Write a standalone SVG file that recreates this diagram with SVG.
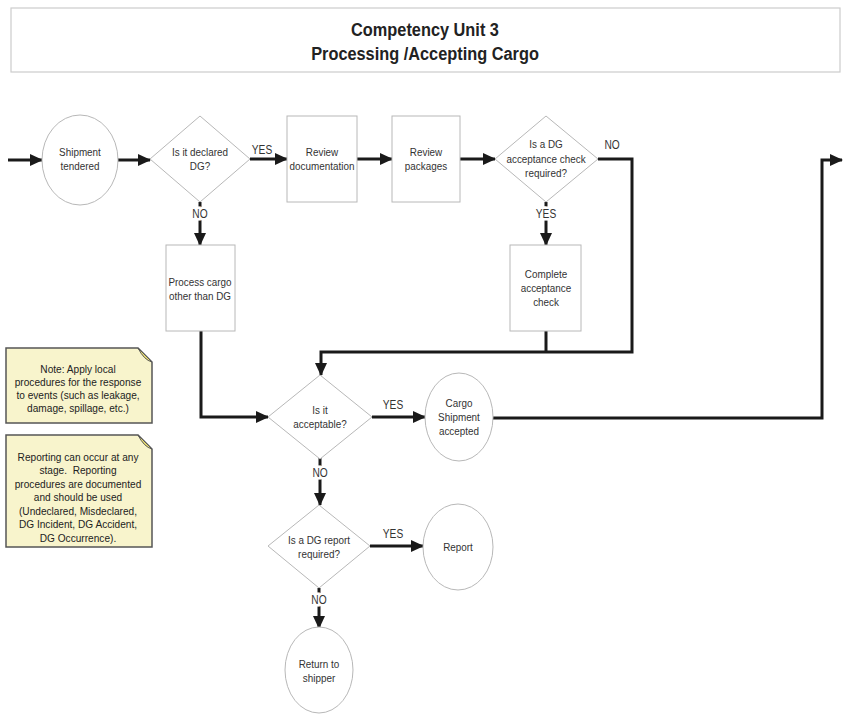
<svg xmlns="http://www.w3.org/2000/svg" width="846" height="719" viewBox="0 0 846 719">
<defs>
<marker id="ah" markerUnits="userSpaceOnUse" markerWidth="13" markerHeight="12" refX="12" refY="6" orient="auto">
<path d="M0,0 L13,6 L0,12 z" fill="#1a1a1a"/>
</marker>
<style>
text{font-family:"Liberation Sans",Arial,sans-serif;text-anchor:middle;fill:#333;transform-box:fill-box;transform-origin:center}
.t{font-size:19px;font-weight:bold;fill:#222;transform:scaleX(0.86)}
.n{font-size:11.5px;transform:scaleX(0.86)}
.lb{font-size:12px;paint-order:stroke;stroke:#fff;stroke-width:5px;transform:scaleX(0.85)}
.sh{fill:#fff;stroke:#b8b8b8;stroke-width:1}
.c{fill:none;stroke:#1a1a1a;stroke-width:3}
.a{marker-end:url(#ah)}
.note{fill:#f8f4cc;stroke:#555;stroke-width:1.5}
.fold{fill:#ece070;stroke:#555;stroke-width:1}
.nt{font-size:11.5px;fill:#222;transform:scaleX(0.88)}
</style>
</defs>
<rect width="846" height="719" fill="#fff"/>
<g id="title">
<rect x="11" y="8" width="829" height="64" fill="#fff" stroke="#ccc" stroke-width="1.2"/>
<text class="t" x="425" y="36">Competency Unit 3</text>
<text class="t" x="425" y="60">Processing /Accepting Cargo</text>
</g>
<g id="connectors">
<path class="c a" d="M8,160 H42"/>
<path class="c a" d="M118,160 H150"/>
<path class="c a" d="M250,159 H287"/>
<path class="c a" d="M357,159 H392"/>
<path class="c a" d="M460,159 H495"/>
<path class="c a" d="M200,202 V245"/>
<path class="c a" d="M546,202 V245"/>
<path class="c a" d="M598,159 H632 V352 H321 V375"/>
<path class="c" d="M546,331 V352"/>
<path class="c a" d="M201,331 V417 H268"/>
<path class="c a" d="M372,417 H425"/>
<path class="c a" d="M320,458 V505"/>
<path class="c a" d="M370,546 H423"/>
<path class="c a" d="M319,588 V628"/>
<path class="c a" d="M493,418 H822 V160 H842"/>
<text class="lb" x="262" y="154">YES</text>
<text class="lb" x="612" y="149">NO</text>
<text class="lb" x="200" y="218">NO</text>
<text class="lb" x="546" y="218">YES</text>
<text class="lb" x="393" y="409">YES</text>
<text class="lb" x="320" y="477">NO</text>
<text class="lb" x="393" y="538">YES</text>
<text class="lb" x="319" y="604">NO</text>
</g>
<g id="shipment-tendered">
<ellipse class="sh" cx="80" cy="160" rx="38" ry="45"/>
<text class="n" x="80" y="156">Shipment</text>
<text class="n" x="80" y="170">tendered</text>
</g>
<g id="declared-dg">
<path class="sh" d="M200,116 L250,159 L200,202 L150,159 z"/>
<text class="n" x="200" y="156">Is it declared</text>
<text class="n" x="200" y="170">DG?</text>
</g>
<g id="review-documentation">
<rect class="sh" x="287" y="116" width="70" height="86"/>
<text class="n" x="322" y="156">Review</text>
<text class="n" x="322" y="170">documentation</text>
</g>
<g id="review-packages">
<rect class="sh" x="392" y="116" width="68" height="86"/>
<text class="n" x="426" y="156">Review</text>
<text class="n" x="426" y="170">packages</text>
</g>
<g id="acceptance-check-required">
<path class="sh" d="M546,116 L598,159 L546,202 L495,159 z"/>
<text class="n" x="546" y="148">Is a DG</text>
<text class="n" x="546" y="163">acceptance check</text>
<text class="n" x="546" y="177">required?</text>
</g>
<g id="complete-acceptance-check">
<rect class="sh" x="510" y="245" width="71" height="86"/>
<text class="n" x="546" y="278">Complete</text>
<text class="n" x="546" y="292">acceptance</text>
<text class="n" x="546" y="306">check</text>
</g>
<g id="process-cargo">
<rect class="sh" x="166" y="245" width="69" height="86"/>
<text class="n" x="200" y="286">Process cargo</text>
<text class="n" x="200" y="300">other than DG</text>
</g>
<g id="is-acceptable">
<path class="sh" d="M320,375 L372,417 L320,459 L268,417 z"/>
<text class="n" x="320" y="414">Is it</text>
<text class="n" x="320" y="428">acceptable?</text>
</g>
<g id="cargo-accepted">
<ellipse class="sh" cx="459" cy="417" rx="34" ry="44"/>
<text class="n" x="459" y="407">Cargo</text>
<text class="n" x="459" y="421">Shipment</text>
<text class="n" x="459" y="435">accepted</text>
</g>
<g id="dg-report-required">
<path class="sh" d="M319,505 L370,546 L319,588 L268,546 z"/>
<text class="n" x="319" y="544">Is a DG report</text>
<text class="n" x="319" y="558">required?</text>
</g>
<g id="report">
<ellipse class="sh" cx="458" cy="547" rx="35" ry="43"/>
<text class="n" x="458" y="551">Report</text>
</g>
<g id="return-to-shipper">
<ellipse class="sh" cx="319" cy="670" rx="34" ry="43"/>
<text class="n" x="319" y="668">Return to</text>
<text class="n" x="319" y="682">shipper</text>
</g>
<g id="note-local-procedures">
<path class="note" d="M6,348 H138 L152,362 V423 H6 z"/>
<path class="fold" d="M138,348 L152,362 Q144,360 138,348 z"/>
<text class="nt" x="78" y="373">Note: Apply local</text>
<text class="nt" x="78" y="386">procedures for the response</text>
<text class="nt" x="78" y="399">to events (such as leakage,</text>
<text class="nt" x="78" y="412">damage, spillage, etc.)</text>
</g>
<g id="note-reporting">
<path class="note" d="M6,435 H138 L152,449 V547 H6 z"/>
<path class="fold" d="M138,435 L152,449 Q144,447 138,435 z"/>
<text class="nt" x="78" y="461">Reporting can occur at any</text>
<text class="nt" x="78" y="474" xml:space="preserve">stage.  Reporting</text>
<text class="nt" x="78" y="488">procedures are documented</text>
<text class="nt" x="78" y="501">and should be used</text>
<text class="nt" x="78" y="515">(Undeclared, Misdeclared,</text>
<text class="nt" x="78" y="528">DG Incident, DG Accident,</text>
<text class="nt" x="78" y="542">DG Occurrence).</text>
</g>
</svg>
